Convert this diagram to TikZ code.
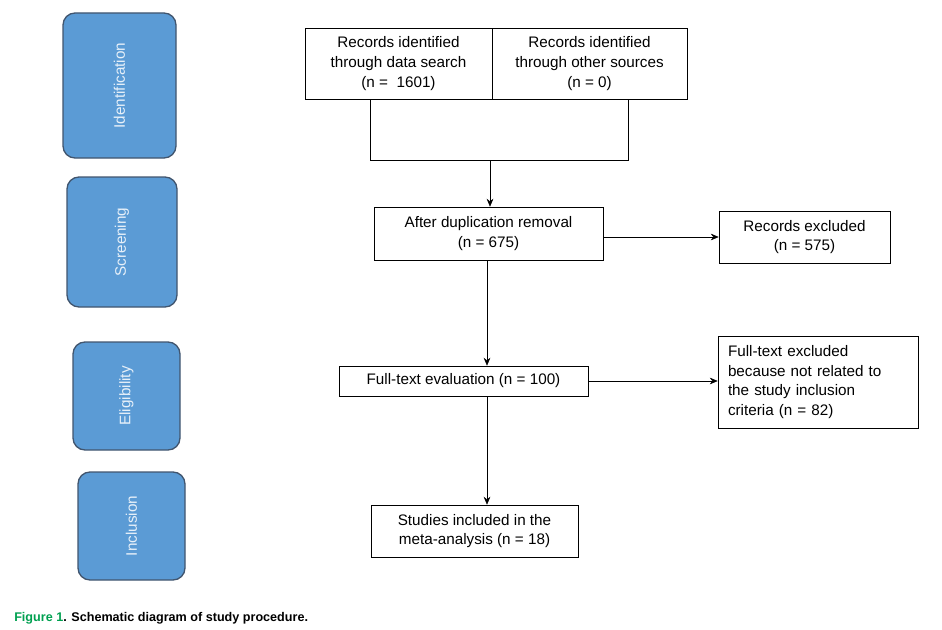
\documentclass[tikz,border=0pt]{standalone}
\usepackage{fontspec}
\setmainfont{Liberation Sans}
\usetikzlibrary{arrows.meta,positioning}
\definecolor{stageblue}{RGB}{91,155,213}
\definecolor{stageline}{RGB}{65,85,110}
\definecolor{figgreen}{RGB}{0,160,80}
\tikzset{
  stage/.style={rectangle,rounded corners=9pt,draw=stageline,fill=stageblue,line width=1pt,text=white!90!stageblue},
  rec/.style={rectangle,draw=black,align=center,font=\fontsize{11.5}{15}\selectfont,inner sep=0pt},
  arr/.style={-{Stealth[length=6pt,width=5pt]},thin}
}
\begin{document}
\begin{tikzpicture}[x=0.0265cm,y=-0.0265cm]
\useasboundingbox (0,0) rectangle (942,630);
% stages
\node[stage,minimum width=113*0.0265cm,minimum height=145*0.0265cm] (ident) at (119.5,85.5) {};
\node[rotate=90,text=white!85!stageblue,font=\fontsize{11.5}{14}\selectfont] at (ident) {Identification};
\node[stage,minimum width=110*0.0265cm,minimum height=130*0.0265cm] (screen) at (122,242) {};
\node[rotate=90,text=white!85!stageblue,font=\fontsize{11.5}{14}\selectfont] at (screen) {Screening};
\node[stage,minimum width=107*0.0265cm,minimum height=108*0.0265cm] (elig) at (126.5,396) {};
\node[rotate=90,text=white!85!stageblue,font=\fontsize{11.5}{14}\selectfont] at (elig) {Eligibility};
\node[stage,minimum width=107*0.0265cm,minimum height=108*0.0265cm] (incl) at (131.5,526) {};
\node[rotate=90,text=white!85!stageblue,font=\fontsize{11.5}{14}\selectfont] at (incl) {Inclusion};
% records
\node[rec,minimum width=187*0.0265cm,minimum height=71*0.0265cm] (search) at (398.5,63.5) {Records identified\\through data search\\(n =\ \ 1601)};
\node[rec,minimum width=195*0.0265cm,minimum height=71*0.0265cm] (other) at (589.5,63.5) {Records identified\\through other sources\\(n = 0)};
\node[rec,minimum width=229*0.0265cm,minimum height=53*0.0265cm] (dup) at (488.5,233.5) {After duplication removal\\(n = 675)};
\node[rec,minimum width=171*0.0265cm,minimum height=52*0.0265cm] (excl) at (804.5,237) {Records excluded\\(n = 575)};
\node[rec,minimum width=249*0.0265cm,minimum height=30*0.0265cm] (full) at (463.5,381) {Full-text evaluation (n = 100)};
\node[rec,minimum width=200*0.0265cm,minimum height=92*0.0265cm,align=left,text width=180*0.0265cm] (fexcl) at (818,382) {Full-text excluded\\because not related to\\the study inclusion\\criteria (n = 82)};
\node[rec,minimum width=207*0.0265cm,minimum height=52*0.0265cm] (incd) at (474.5,531) {Studies included in the\\meta-analysis (n = 18)};
% connectors
\coordinate (j1) at (370,160);
\coordinate (j2) at (628,160);
\coordinate (jm) at (490,160);
\draw[thin] (search.south -| j1) -- (j1) -- (j2) -- (other.south -| j2);
\draw[arr] (jm) -- (dup.north -| jm);
\draw[arr] (dup.east |- excl) -- (excl.west);
\draw[arr] (dup.south -| 487,0) -- (full.north -| 487,0);
\draw[arr] (full.east) -- (fexcl.west |- full);
\draw[arr] (full.south -| 487,0) -- (incd.north -| 487,0);
% caption
\node[anchor=west,font=\bfseries\fontsize{9.5}{12}\selectfont,inner sep=0pt] (cap) at (14,618) {\textcolor{figgreen}{Figure 1}. Schematic diagram of study procedure.};
\end{tikzpicture}
\end{document}
